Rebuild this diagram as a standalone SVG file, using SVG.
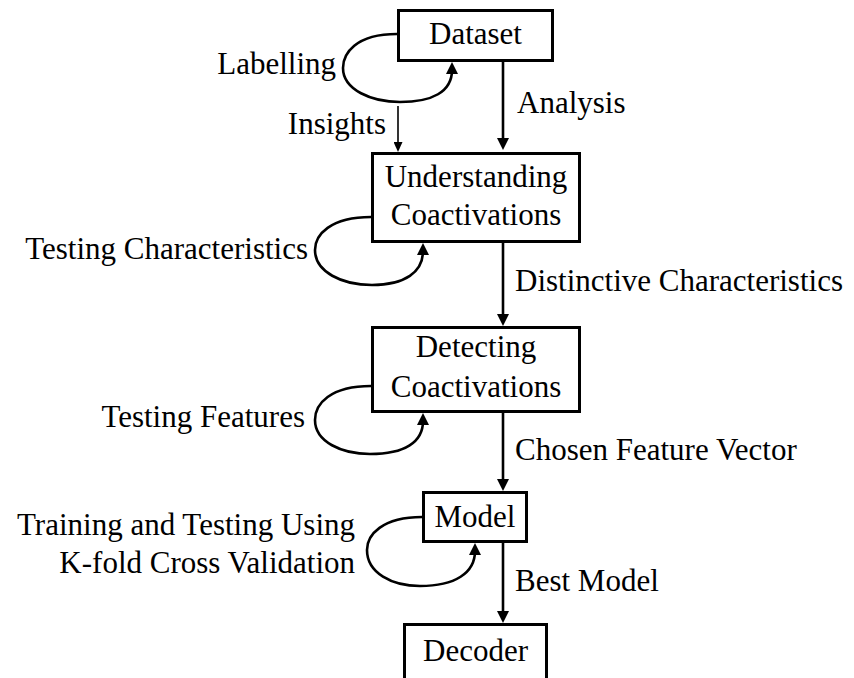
<svg xmlns="http://www.w3.org/2000/svg" width="854" height="678" viewBox="0 0 854 678">
  <style>
    .box { fill: #fff; stroke: #000; stroke-width: 3; }
    text { font-family: 'Liberation Serif', 'DejaVu Serif', serif; font-size: 31px; fill: #000; }
    .mid { text-anchor: middle; }
    .end { text-anchor: end; }
    .edge { fill: none; stroke: #000; stroke-width: 2.6; marker-end: url(#head); }
    .thin { fill: none; stroke: #000; stroke-width: 1.6; marker-end: url(#headSmall); }
  </style>
  <defs>
    <marker id="head" viewBox="0 0 12 12" refX="4" refY="6" markerWidth="12" markerHeight="12" markerUnits="userSpaceOnUse" orient="auto">
      <path d="M0,0 L12,6 L0,12 z" fill="#000"/>
    </marker>
    <marker id="headSmall" viewBox="0 0 10 9" refX="3" refY="4.5" markerWidth="10" markerHeight="9" markerUnits="userSpaceOnUse" orient="auto">
      <path d="M0,0 L10,4.5 L0,9 z" fill="#000"/>
    </marker>
  </defs>

  <rect width="854" height="678" fill="#fff"/>

  <!-- connectors with their labels -->
  <g id="connectors">
    <path class="edge" d="M503,62 V142"/>
    <path class="thin" d="M398,106 V145"/>
    <path class="edge" d="M397,34 C355,34 343,54 343,68 C343,90 372,102 400,102 C432,102 452,92 452,70"/>
    <path class="edge" d="M503,243 V318"/>
    <path class="edge" d="M371,217 C330,217 315,235 315,250 C315,272 342,285 372,285 C405,285 423,272 423,251"/>
    <path class="edge" d="M503,413 V483"/>
    <path class="edge" d="M371,386 C330,386 315,404 315,420 C315,442 342,454 370,454 C405,454 423,442 423,421"/>
    <path class="edge" d="M503,543 V615"/>
    <path class="edge" d="M422,517 C382,517 367,535 367,550 C367,573 392,586 420,586 C455,586 475,573 475,551"/>

    <text class="end" x="336" y="74">Labelling</text>
    <text class="end" x="386" y="134">Insights</text>
    <text x="517" y="113">Analysis</text>
    <text class="end" x="308" y="259">Testing Characteristics</text>
    <text x="515" y="291">Distinctive Characteristics</text>
    <text class="end" x="305" y="427">Testing Features</text>
    <text x="515" y="460">Chosen Feature Vector</text>
    <text class="end" x="355" y="535">Training and Testing Using</text>
    <text class="end" x="355" y="573">K-fold Cross Validation</text>
    <text x="515" y="591">Best Model</text>
  </g>

  <g id="dataset">
    <rect class="box" x="398.5" y="10.5" width="154" height="50"/>
    <text class="mid" x="475.5" y="44">Dataset</text>
  </g>

  <g id="understanding">
    <rect class="box" x="372.5" y="153.5" width="207" height="88"/>
    <text class="mid" x="476" y="187">Understanding</text>
    <text class="mid" x="476" y="225">Coactivations</text>
  </g>

  <g id="detecting">
    <rect class="box" x="372.5" y="327.5" width="207" height="84"/>
    <text class="mid" x="476" y="357">Detecting</text>
    <text class="mid" x="476" y="397">Coactivations</text>
  </g>

  <g id="model">
    <rect class="box" x="423.5" y="492.5" width="103" height="49"/>
    <text class="mid" x="475" y="527">Model</text>
  </g>

  <g id="decoder">
    <rect class="box" x="404.5" y="624.5" width="142" height="70"/>
    <text class="mid" x="475.5" y="661">Decoder</text>
  </g>
</svg>
